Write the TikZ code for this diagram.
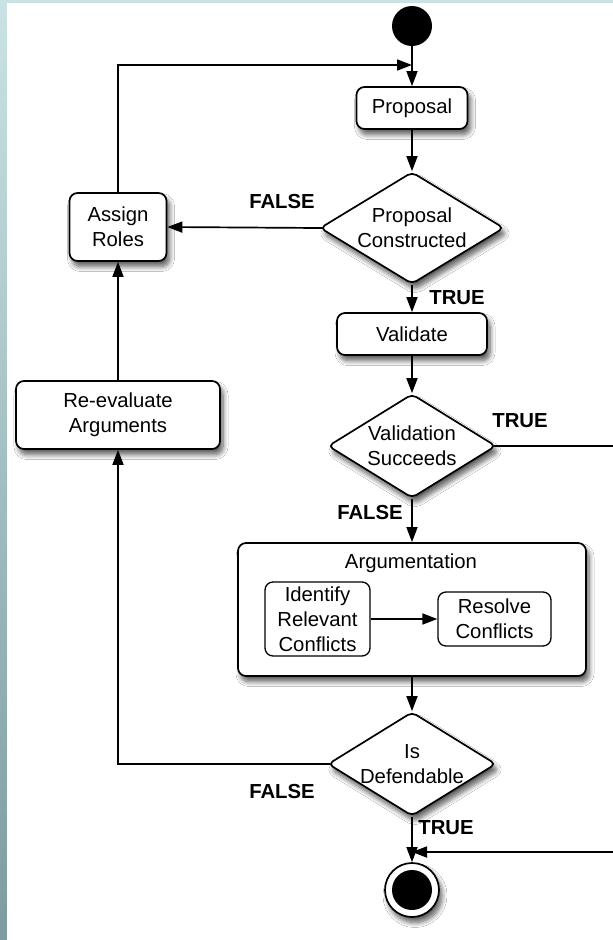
\documentclass[tikz,border=0pt]{standalone}
\usepackage{fontspec}
\setmainfont{Liberation Sans}
\usetikzlibrary{shapes.geometric,arrows.meta,shadows.blur}
\definecolor{bgtop}{RGB}{202,226,228}
\definecolor{bgbot}{RGB}{125,155,160}
\begin{document}
\begin{tikzpicture}[x=1pt,y=-1pt,
  every node/.style={font=\fontsize{20.3}{25}\selectfont, align=center, inner sep=0pt},
  shad/.style={blur shadow={shadow xshift=3pt, shadow yshift=-5.5pt, shadow blur radius=5pt, shadow blur steps=8, shadow opacity=65}},
  box/.style={draw, line width=1.7pt, rounded corners=8pt, fill=white, shad},
  inbox/.style={draw, line width=1.3pt, rounded corners=8pt, fill=white},
  decision/.style={draw, shape=diamond, line width=1.7pt, rounded corners=5pt, fill=white, shad},
  lbl/.style={font=\fontsize{20.3}{25}\selectfont\bfseries},
  arr/.style={line width=1.7pt, -{Triangle[length=15pt,width=11pt]}},
]
\useasboundingbox (0,0) rectangle (613,940);
\clip (0,0) rectangle (613,940);
\shade[top color=bgtop, bottom color=bgbot] (0,0) rectangle (613,940);
\fill[white] (7,3) rectangle (613,940);

% nodes
\node[circle, fill=black, minimum size=40pt] (start) at (412,26) {};
\node[box, minimum width=111pt, minimum height=42pt] (prop) at (412,108) {Proposal};
\node[decision, minimum width=184pt, minimum height=112pt] (pc) at (412,228) {};
\node (pct) at (pc) {Proposal\\Constructed};
\node[box, minimum width=97pt, minimum height=68pt] (assign) at (118,227) {Assign\\Roles};
\node[box, minimum width=150pt, minimum height=42pt] (valid) at (412,334) {Validate};
\node[decision, minimum width=168pt, minimum height=104pt] (vs) at (412,446) {};
\node (vst) at (vs) {Validation\\Succeeds};
\node[box, minimum width=204pt, minimum height=68pt] (reeval) at (118,415) {Re-evaluate\\Arguments};
\node[box, minimum width=348pt, minimum height=133pt] (arg) at (412,609.5) {};
\node (argt) at (411,563) {Argumentation};
\node[inbox, minimum width=105pt, minimum height=74pt] (ident) at (317.5,619) {Identify\\Relevant\\Conflicts};
\node[inbox, minimum width=113pt, minimum height=54pt] (resolve) at (494.5,619) {Resolve\\Conflicts};
\node[decision, minimum width=168pt, minimum height=104pt] (isd) at (412,764) {};
\node (isdt) at (isd) {Is\\Defendable};
\node[circle, draw, line width=1.7pt, fill=white, minimum size=54pt, shad] (end) at (412,890) {};
\node[circle, fill=black, minimum size=40pt] (endin) at (end) {};

% labels
\node[lbl] (f1) at (282,202) {FALSE};
\node[lbl] (t1) at (457,298) {TRUE};
\node[lbl] (t2) at (520,421) {TRUE};
\node[lbl] (f2) at (370,513) {FALSE};
\node[lbl] (f3) at (282,792) {FALSE};
\node[lbl] (t3) at (446,828) {TRUE};

% connectors
\coordinate (merge) at (412,65);
\coordinate (join) at (412,852);
\draw[arr] (start) -- (prop);
\draw[arr] (prop) -- (pc);
\draw[arr, shorten <=-3pt] (pc.west) -- (assign.east);
\draw[arr] (assign.north) |- (merge);
\draw[arr] (pc) -- (valid);
\draw[arr] (valid) -- (vs);
\draw[arr, shorten <=-3pt] (vs.east) -- ++(240,0) |- (join);
\draw[arr] (vs) -- (arg);
\draw[arr] (ident) -- (resolve);
\draw[arr] (arg) -- (isd);
\draw[arr, shorten <=-3pt] (isd.west) -| (reeval.south);
\draw[arr] (reeval.north) -- (assign.south);
\draw[arr] (isd) -- (end);
\end{tikzpicture}
\end{document}
